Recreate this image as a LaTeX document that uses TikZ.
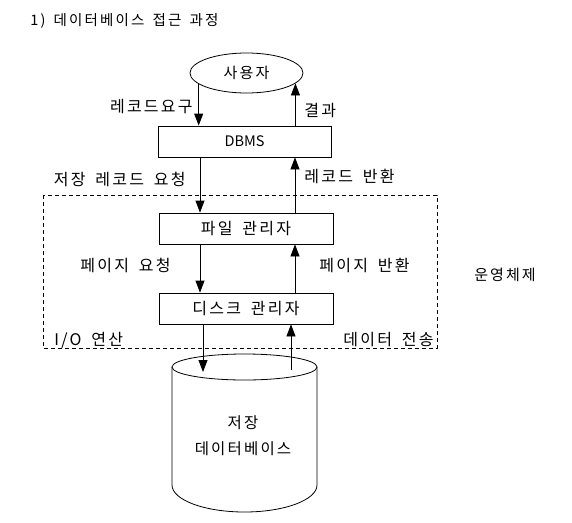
\documentclass[tikz,border=0pt]{standalone}
\usepackage{fontspec}
\usepackage{tikz}
\usetikzlibrary{shapes.geometric,arrows.meta}
\newfontfamily\kr[LetterSpace=14,WordSpace=1.7]{Noto Sans CJK KR}
\newfontfamily\krtitle[LetterSpace=15,WordSpace=1.5]{Noto Sans CJK KR}
\newfontfamily\krplain{Noto Sans CJK KR}

\begin{document}
\begin{tikzpicture}[x=1pt,y=-1pt,line width=0.8pt,
	font=\kr\fontsize{16}{19}\selectfont,
	box/.style={draw,minimum width=174pt,minimum height=31pt,inner sep=0pt},
	arr/.style={-{Triangle[length=12pt,width=9pt]}},
	lbl/.style={inner sep=0pt}]
					% Page frame
					\useasboundingbox (0,0) rectangle (572,522);
					\node[lbl,anchor=west,font=\krtitle\fontsize{14.5}{17}\selectfont] (title) at (30,21) {1) 데이터베이스 접근 과정};
					% User and the managers
					\node[draw,ellipse,minimum width=113pt,minimum height=40pt,inner sep=0pt,font=\kr\fontsize{15}{18}\selectfont] (user) at (246.5,73) {사용자};
					\node[box,minimum width=173pt,font=\krplain\fontsize{14.5}{17}\selectfont] (dbms) at (244.5,141.5) {DBMS};
					\node[box] (filemgr) at (246,228.5) {파일 관리자};
					\node[box] (diskmgr) at (246,308.5) {디스크 관리자};
					% Operating system area
					\draw[dash pattern=on 4pt off 3pt] (43,195) rectangle (437,348);
					\node[lbl,font=\kr\fontsize{15}{18}\selectfont] (os) at (505,275) {운영체제};
					% Stored database
					\draw (172,367) -- (172,485) arc[start angle=180,end angle=360,x radius=72.5,y radius=-27] -- (317,367);
					\draw (244.5,367) ellipse[x radius=72.5,y radius=13];
					\node[lbl,align=center,font=\kr\fontsize{15.5}{26}\selectfont] (db) at (243,436) {저장\\데이터베이스};
					% Arrow columns
					\coordinate (xl) at (200,0);
					\coordinate (xr) at (295,0);
					\coordinate (yl) at (203,372);
					\coordinate (yr) at (291,370);
					\draw[arr] (user.193.8) -- (user.193.8 |- dbms.north);
					\draw[arr] (user.348 |- dbms.north) -- (user.348);
					\draw[arr] (xl |- dbms.south) -- (xl |- filemgr.north);
					\draw[arr] (xr |- filemgr.north) -- (xr |- dbms.south);
					\draw[arr] (xl |- filemgr.south) -- (xl |- diskmgr.north);
					\draw[arr] (xr |- diskmgr.north) -- (xr |- filemgr.south);
					\draw[arr] (yl |- diskmgr.south) -- (yl);
					\draw[arr] (yr) -- (yr |- diskmgr.south);
					% Labels on the arrows
					\node[lbl,anchor=east] (req) at (193,107) {레코드요구};
					\node[lbl,anchor=west] (res) at (304,111) {결과};
					\node[lbl,anchor=east] (recreq) at (186,179) {저장 레코드 요청};
					\node[lbl,anchor=west] (recret) at (304,176) {레코드 반환};
					\node[lbl,anchor=east] (pagereq) at (171,265) {페이지 요청};
					\node[lbl,anchor=west] (pageret) at (319,265) {페이지 반환};
					\node[lbl,anchor=west] (io) at (54,340) {I/O 연산};
					\node[lbl,anchor=east] (xfer) at (434,340) {데이터 전송};
				\end{tikzpicture}
\end{document}
